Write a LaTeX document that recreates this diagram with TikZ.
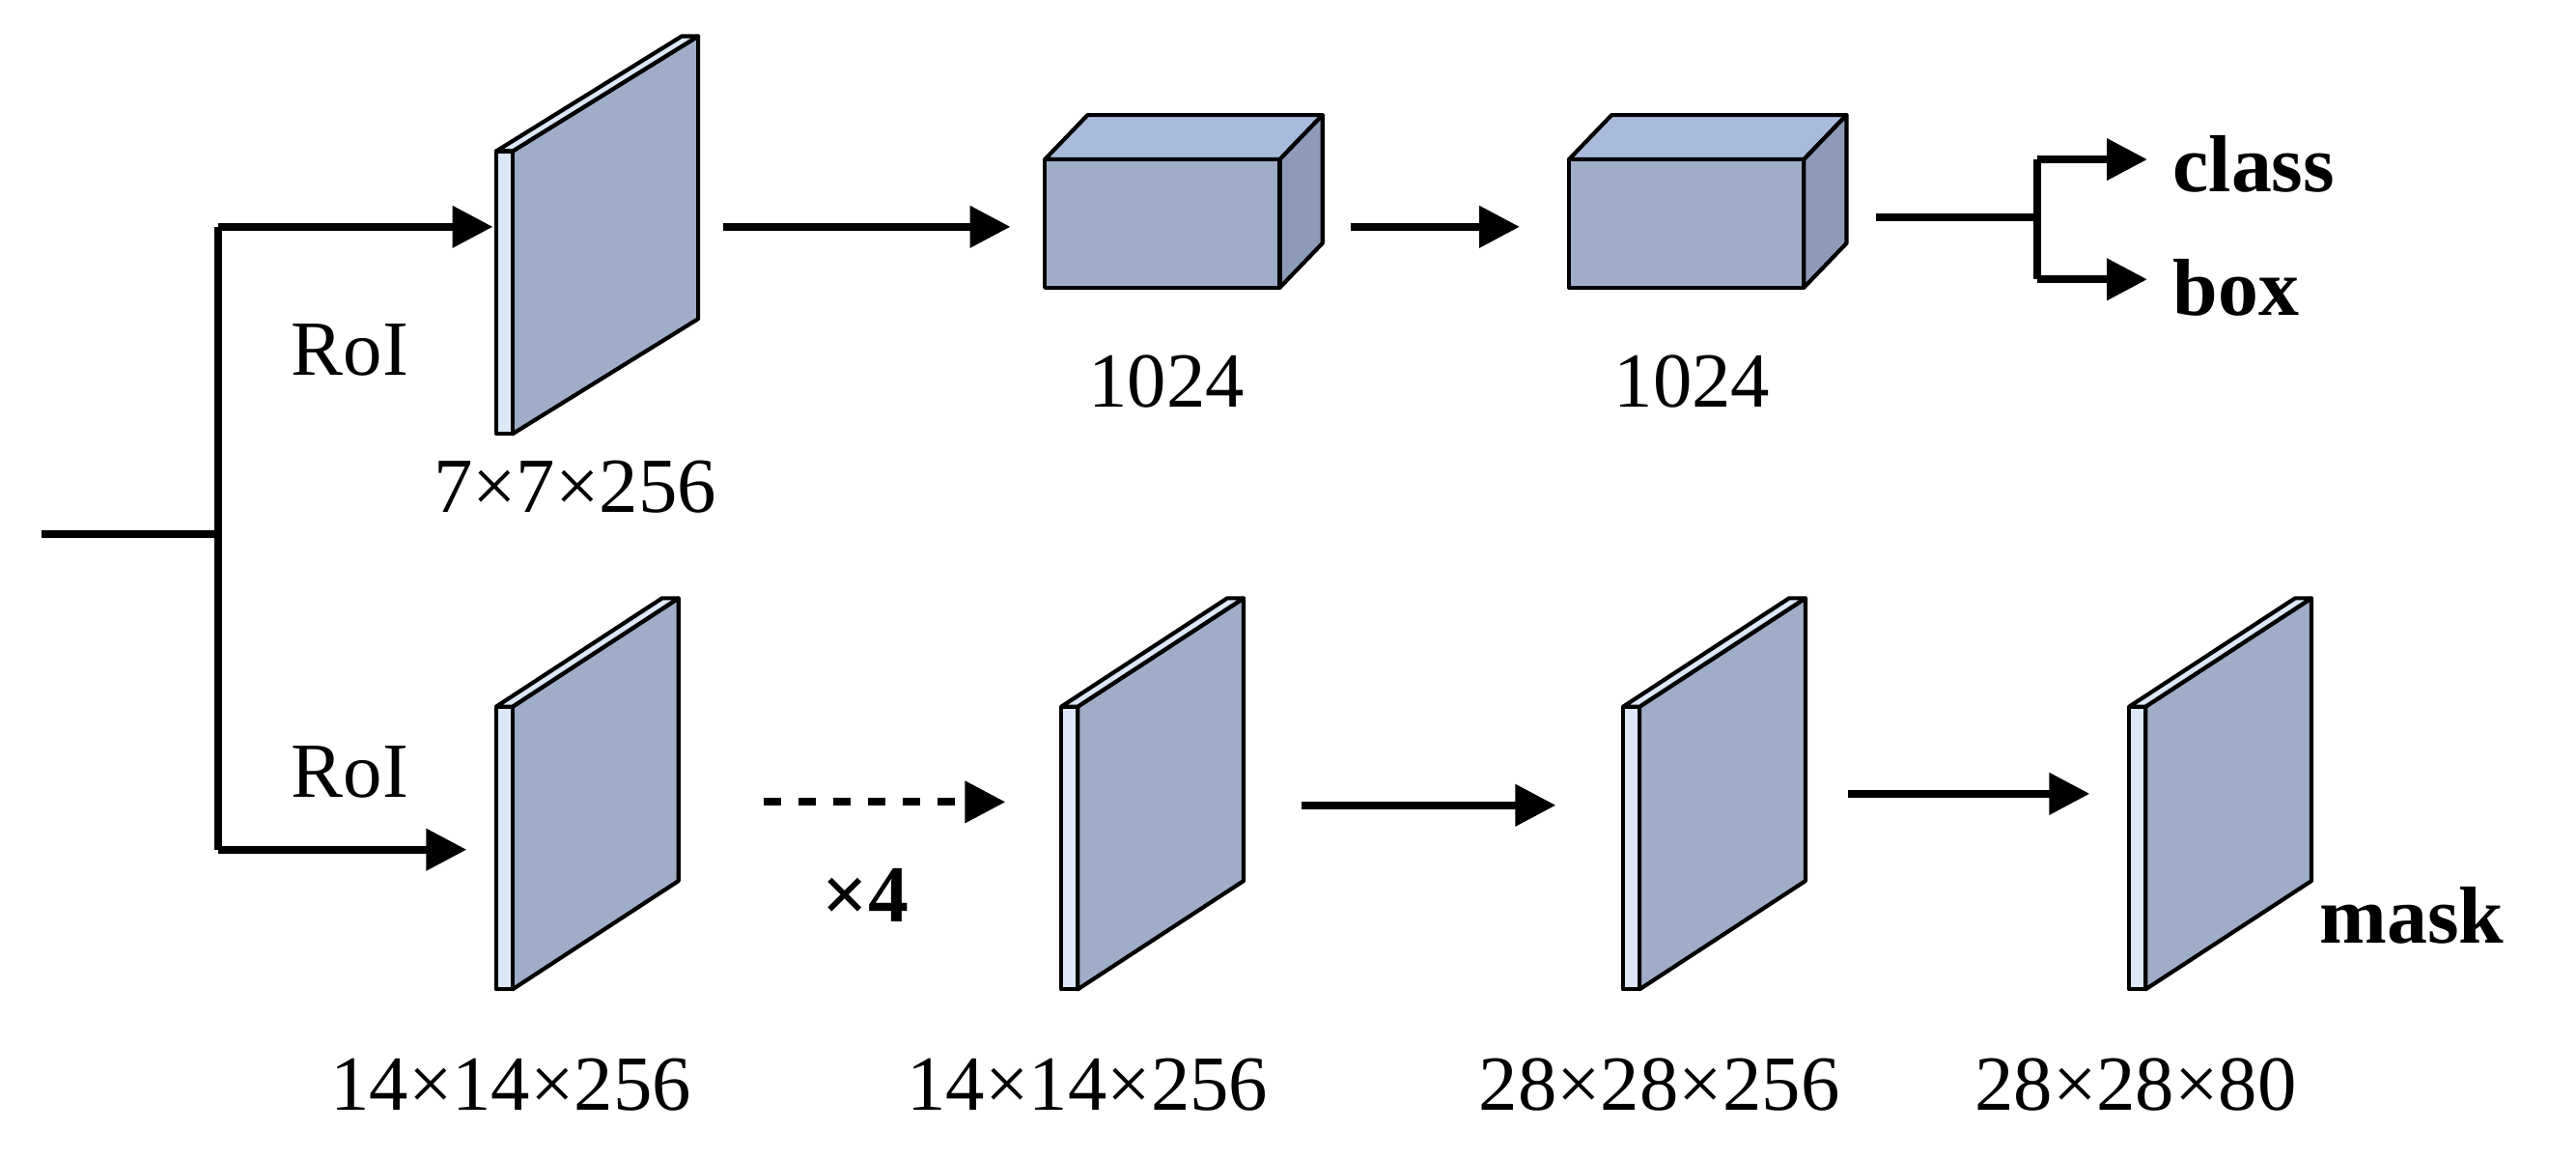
\documentclass[tikz,border=0pt]{standalone}
\usepackage{fontspec}
\setmainfont{Liberation Serif}
\usetikzlibrary{arrows.meta}
\definecolor{face}{HTML}{A0ADC8}
\definecolor{strip}{HTML}{DCE8F8}
\definecolor{ctop}{HTML}{A9BBDD}
\definecolor{cside}{HTML}{8D9BB8}
\tikzset{
  conn/.style={line width=1.3pt,-{Triangle[length=7pt,width=7pt]}},
  wire/.style={line width=1.3pt},
  lbl/.style={font=\fontsize{13.5}{15}\selectfont,inner sep=0pt},
  blbl/.style={font=\fontsize{14}{16}\selectfont\bfseries,inner sep=0pt},
  edge/.style={draw=black,line width=0.7pt,line join=round}
}
\newcommand{\slab}[5]{% x y name dx dy
  \fill[face,edge] (#1+10,#2) -- ++(#4,-#5) -- ++(0,172) -- (#1+10,#2+172) -- cycle;
  \fill[strip,edge] (#1,#2) -- ++(#4,-#5) -- ++(10,0) -- (#1+10,#2) -- cycle;
  \fill[strip,edge] (#1,#2) rectangle (#1+10,#2+172);
  \coordinate (#3w) at (#1,#2+86-#5/2);
  \coordinate (#3e) at (#1+10+#4,#2+86-#5/2);
}
\newcommand{\cube}[3]{% x y name
  \fill[ctop,edge] (#1,#2) -- ++(26,-27) -- ++(143,0) -- (#1+143,#2) -- cycle;
  \fill[cside,edge] (#1+143,#2) -- ++(26,-27) -- ++(0,78) -- (#1+143,#2+78) -- cycle;
  \fill[face,edge] (#1,#2) rectangle (#1+143,#2+78);
  \coordinate (#3w) at (#1,#2+41);
  \coordinate (#3e) at (#1+169,#2+41);
}
\begin{document}
\begin{tikzpicture}[x=0.01cm,y=-0.01cm]
\useasboundingbox (0,0) rectangle (1568,705);
\slab{302}{92}{A}{113}{70}
\slab{302}{430}{B}{101}{66}
\slab{646}{430}{C}{101}{66}
\slab{988}{430}{D}{101}{66}
\slab{1296}{430}{E}{101}{66}
\cube{636}{97}{P}
\cube{955}{97}{Q}
% input
\coordinate (in) at (25,325);
\coordinate (sp) at (133,325);
\coordinate (t1) at (133,138);
\coordinate (t2) at (133,517);
\draw[wire] (in) -- (sp);
\draw[wire] (t1) -- (t2);
\draw[conn] (t1) -- (300,138);
\draw[conn] (t2) -- (284,517);
\draw[conn] (440,138) -- (615,138);
\draw[conn] (822,138) -- (925,138);
\coordinate (q1) at (1142,132);
\coordinate (q2) at (1240,132);
\draw[wire] (q1) -- (q2);
\draw[wire] (1240,97) -- (1240,170);
\draw[conn] (1240,97) -- (1307,97);
\draw[conn] (1240,170) -- (1307,170);
\draw[conn,dashed] (465,488) -- (612,488);
\draw[conn] (792,490) -- (947,490);
\draw[conn] (1125,483) -- (1272,483);
% labels
\node[blbl,anchor=west] (cls) at (1322,100) {class};
\node[blbl,anchor=west] (bx) at (1322,175) {box};
\node[blbl] (x4) at (527,545) {×4};
\node[blbl] (mk) at (1468,557) {mask};
\node[lbl] (r1) at (213,213) {RoI};
\node[lbl] (r2) at (213,470) {RoI};
\node[lbl] (l1) at (350,296) {7×7×256};
\node[lbl] (l2) at (710,232) {1024};
\node[lbl] (l3) at (1030,232) {1024};
\node[lbl] (l4) at (311,660) {14×14×256};
\node[lbl] (l5) at (662,660) {14×14×256};
\node[lbl] (l6) at (1010,660) {28×28×256};
\node[lbl] (l7) at (1300,660) {28×28×80};
\end{tikzpicture}
\end{document}
